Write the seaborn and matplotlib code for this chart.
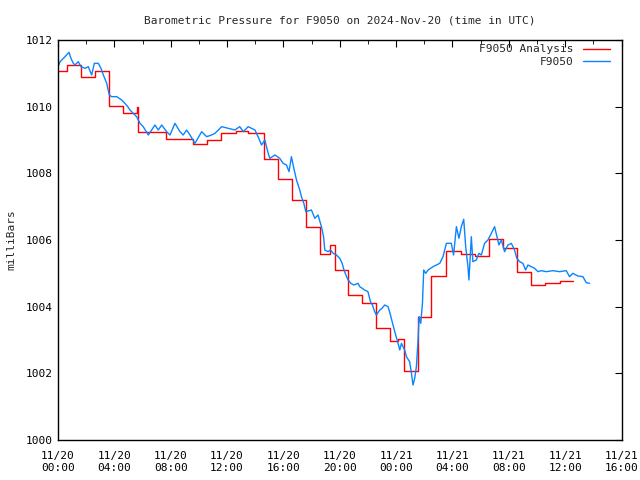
import numpy as np
import pandas as pd
import matplotlib
matplotlib.use("Agg")
import matplotlib.pyplot as plt
import seaborn as sns
from matplotlib.ticker import MultipleLocator

# hours since 11/20 00:00 UTC
obs_hours = [
    0.0, 0.15, 0.5, 0.78, 0.92, 1.09, 1.2, 1.44, 1.63, 1.92, 2.15, 2.39, 2.58, 2.86,
    3.05, 3.22, 3.46, 3.64, 3.81, 4.17, 4.52, 4.75, 4.95, 5.11, 5.35, 5.58, 5.82,
    6.05, 6.41, 6.65, 6.88, 7.12, 7.36, 7.71, 7.95, 8.3, 8.66, 8.89, 9.13, 9.37,
    9.72, 10.2, 10.55, 10.9, 11.14, 11.62, 12.09, 12.56, 12.9, 13.15, 13.5, 13.98,
    14.2, 14.45, 14.68, 14.8, 14.92, 15.04, 15.4, 15.74, 15.98, 16.22, 16.4, 16.57,
    16.74, 16.93, 17.16, 17.28, 17.45, 17.59, 17.99, 18.23, 18.46, 18.7, 18.85,
    18.94, 19.17, 19.35, 19.53, 19.77, 20.0, 20.17, 20.3, 20.48, 20.6, 20.78, 21.0,
    21.3, 21.42, 21.6, 21.77, 22.0, 22.18, 22.32, 22.48, 22.6, 22.84, 23.0, 23.19,
    23.43, 23.6, 23.78, 23.97, 24.14, 24.26, 24.38, 24.61, 24.73, 24.96, 25.09,
    25.2, 25.32, 25.44, 25.56, 25.63, 25.75, 25.87, 25.96, 26.1, 26.27, 26.62,
    27.1, 27.33, 27.57, 27.92, 28.08, 28.28, 28.46, 28.63, 28.8, 28.94, 29.1,
    29.17, 29.34, 29.45, 29.69, 29.88, 30.05, 30.28, 30.52, 30.76, 30.99, 31.16,
    31.3, 31.47, 31.7, 31.94, 32.18, 32.41, 32.57, 32.77, 33.0, 33.19, 33.36,
    33.6, 33.83, 34.07, 34.3, 34.66, 35.13, 35.6, 36.08, 36.31, 36.55, 36.9,
    37.26, 37.5, 37.73,
]
obs_mb = [
    1011.2, 1011.35, 1011.5, 1011.63, 1011.45, 1011.3, 1011.25, 1011.35, 1011.2,
    1011.15, 1011.2, 1010.95, 1011.3, 1011.3, 1011.15, 1010.95, 1010.7, 1010.35,
    1010.3, 1010.3, 1010.2, 1010.1, 1010.0, 1009.9, 1009.8, 1009.7, 1009.5, 1009.4,
    1009.15, 1009.3, 1009.45, 1009.3, 1009.45, 1009.25, 1009.15, 1009.5, 1009.25,
    1009.15, 1009.3, 1009.15, 1008.9, 1009.25, 1009.1, 1009.15, 1009.2, 1009.4,
    1009.35, 1009.3, 1009.4, 1009.25, 1009.4, 1009.3, 1009.1, 1008.85, 1009.0,
    1008.8, 1008.6, 1008.45, 1008.55, 1008.45, 1008.3, 1008.25, 1008.05, 1008.5,
    1008.15, 1007.8, 1007.5, 1007.3, 1007.1, 1006.85, 1006.9, 1006.65, 1006.75,
    1006.4, 1006.1, 1005.7, 1005.65, 1005.7, 1005.6, 1005.55, 1005.45, 1005.3,
    1005.1, 1004.9, 1004.8, 1004.7, 1004.65, 1004.7, 1004.6, 1004.55, 1004.5,
    1004.45, 1004.15, 1004.05, 1003.85, 1003.75, 1003.9, 1003.95, 1004.05, 1004.0,
    1003.75, 1003.45, 1003.15, 1002.9, 1002.7, 1002.9, 1002.7, 1002.5, 1002.35,
    1002.0, 1001.65, 1001.85, 1002.2, 1003.0, 1003.7, 1003.5, 1004.1, 1005.1,
    1005.0, 1005.1, 1005.2, 1005.3, 1005.5, 1005.9, 1005.9, 1005.55, 1006.4,
    1006.05, 1006.4, 1006.62, 1005.8, 1005.2, 1004.8, 1006.1, 1005.35, 1005.4,
    1005.6, 1005.55, 1005.9, 1006.0, 1006.2, 1006.4, 1006.1, 1005.85, 1006.0,
    1005.65, 1005.85, 1005.9, 1005.7, 1005.45, 1005.35, 1005.3, 1005.1, 1005.25,
    1005.2, 1005.15, 1005.05, 1005.08, 1005.05, 1005.08, 1005.05, 1005.08, 1004.9,
    1005.0, 1004.92, 1004.9, 1004.72, 1004.7,
]

# analysis values, step changes (hours since 11/20 00:00)
ana_hours = [
    0.0, 0.62, 1.63, 2.63, 3.6, 4.63, 5.6, 5.66, 7.65, 9.6, 10.6, 11.6, 12.6,
    13.5, 14.6, 15.6, 16.6, 17.6, 18.6, 19.3, 19.65, 20.6, 21.55, 22.6, 23.6,
    24.14, 24.56, 25.55, 26.5, 27.57, 28.63, 29.6, 30.6, 31.6, 32.6, 33.6, 34.6,
    35.6, 36.55,
]
ana_mb = [
    1011.07, 1011.25, 1010.88, 1011.07, 1010.02, 1009.8, 1010.0, 1009.23, 1009.02,
    1008.87, 1009.0, 1009.2, 1009.26, 1009.2, 1008.42, 1007.82, 1007.2, 1006.38,
    1005.57, 1005.85, 1005.1, 1004.35, 1004.1, 1003.37, 1002.97, 1003.02, 1002.08,
    1003.68, 1004.92, 1005.68, 1005.58, 1005.52, 1006.02, 1005.75, 1005.05,
    1004.65, 1004.7, 1004.77, 1004.77,
]

tick_hours = [0, 4, 8, 12, 16, 20, 24, 28, 32, 36, 40]
tick_labels = ["11/20\n00:00", "11/20\n04:00", "11/20\n08:00", "11/20\n12:00",
               "11/20\n16:00", "11/20\n20:00", "11/21\n00:00", "11/21\n04:00",
               "11/21\n08:00", "11/21\n12:00", "11/21\n16:00"]

obs = pd.DataFrame({"hour": obs_hours, "mb": obs_mb})
ana = pd.DataFrame({"hour": ana_hours, "mb": ana_mb})

sns.set_style("white")
plt.rcParams["font.family"] = ["DejaVu Sans Mono", "DejaVu Sans"]
plt.rcParams["font.size"] = 8

fig = plt.figure(figsize=(6.4, 4.8), dpi=100)
ax = fig.add_axes([58 / 640, 40 / 480, (621.5 - 58) / 640, 400 / 480])

sns.lineplot(data=ana, x="hour", y="mb", ax=ax, color="#ff0000", lw=1.0,
             drawstyle="steps-post", estimator=None, sort=False,
             label="F9050 Analysis")
sns.lineplot(data=obs, x="hour", y="mb", ax=ax, color="#0a84ff", lw=1.0,
             estimator=None, sort=False, label="F9050")

ax.set_xlim(0, 40)
ax.set_ylim(1000, 1012)
ax.set_xticks(tick_hours)
ax.set_xticklabels(tick_labels)
ax.xaxis.set_minor_locator(MultipleLocator(2))
ax.set_yticks(range(1000, 1013, 2))
ax.tick_params(which="both", direction="in", top=True, right=True,
               labelsize=8, colors="black")
ax.tick_params(which="major", length=5)
ax.tick_params(which="minor", length=3)
ax.tick_params(axis="x", pad=8)
for s in ax.spines.values():
    s.set_color("black")
    s.set_linewidth(1.0)

ax.set_xlabel("")
ax.set_ylabel("milliBars", fontsize=8)
ax.yaxis.set_label_coords(-0.074, 0.5)
ax.set_title("Barometric Pressure for F9050 on 2024-Nov-20 (time in UTC)",
             fontsize=8, pad=12)

ax.legend(loc="upper right", frameon=False, markerfirst=False, fontsize=8,
          handlelength=2.5, handletextpad=0.8, labelspacing=0.25,
          borderaxespad=0, bbox_to_anchor=(0.988, 1.0))

fig.savefig("out.png", dpi=100)
